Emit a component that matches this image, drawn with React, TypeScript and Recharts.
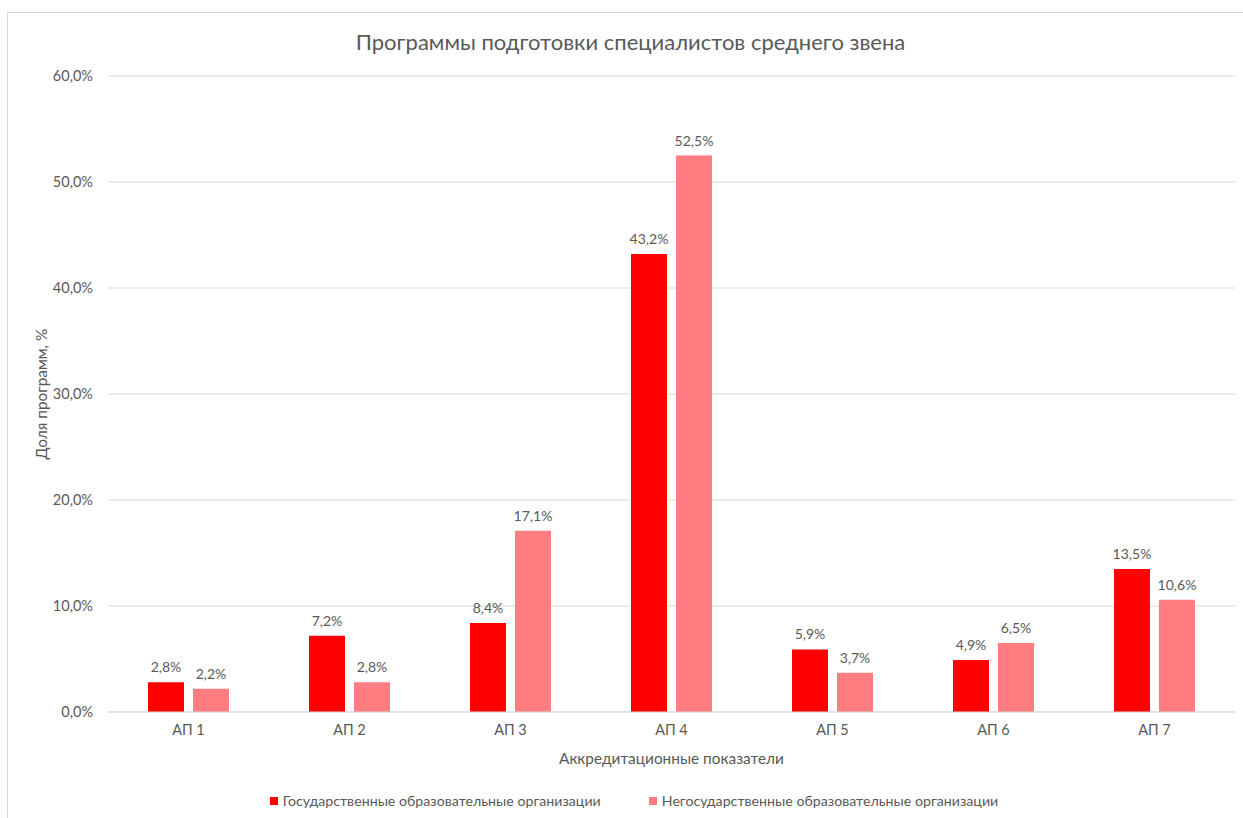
import React from 'react'
import { BarChart, Bar, XAxis, YAxis, CartesianGrid, Legend, LabelList } from 'recharts'

const categories = ['АП 1', 'АП 2', 'АП 3', 'АП 4', 'АП 5', 'АП 6', 'АП 7']
const stateOrgs = [2.8, 7.2, 8.4, 43.2, 5.9, 4.9, 13.5]
const privateOrgs = [2.2, 2.8, 17.1, 52.5, 3.7, 6.5, 10.6]
const yTicks = [0, 10, 20, 30, 40, 50, 60]

const seriesNames = {
  state: 'Государственные образовательные организации',
  priv: 'Негосударственные образовательные организации',
}

const data = categories.map((name, i) => ({ name, state: stateOrgs[i], priv: privateOrgs[i] }))

const FONT = 'Lato, "Open Sans", sans-serif'
const TEXT = '#595959'
const RED = '#FF0000'
const PINK = '#FF7C80'

const fmt = (v: number) => `${v.toFixed(1).replace('.', ',')}%`

function LegendContent() {
  const items = [
    { label: seriesNames.state, color: RED },
    { label: seriesNames.priv, color: PINK },
  ]
  return (
    <div style={{ display: 'flex', justifyContent: 'center', gap: 48, fontFamily: FONT, fontSize: 14.2, color: TEXT }}>
      {items.map((it) => (
        <div key={it.label} style={{ display: 'flex', alignItems: 'center' }}>
          <span style={{ display: 'inline-block', width: 8, height: 8, background: it.color, marginRight: 5 }} />
          <span>{it.label}</span>
        </div>
      ))}
    </div>
  )
}

export default function App() {
  return (
    <div style={{ position: 'fixed', left: 0, top: 0, width: 1243, height: 818, overflow: 'hidden', background: '#fff' }}>
      <div style={{ position: 'absolute', left: 7, top: 12, width: 1400, height: 1000, border: '1px solid #D9D9D9' }} />
      <div
        style={{
          position: 'absolute', left: 0, top: 28, width: 1261, textAlign: 'center',
          fontFamily: FONT, fontSize: 22, color: TEXT,
        }}
      >
        Программы подготовки специалистов среднего звена
      </div>
      <div style={{ position: 'absolute', left: 0, top: 0 }}>
        <BarChart width={1243} height={818} data={data} margin={{ top: 76, right: 8, bottom: 46, left: 0 }} barSize={36} barGap={9}>
          <CartesianGrid vertical={false} stroke="#D9D9D9" />
          <XAxis
            dataKey="name"
            height={60}
            tickLine={false}
            axisLine={{ stroke: '#D9D9D9' }}
            tickMargin={7}
            tick={{ fill: TEXT, fontSize: 14.5, fontFamily: FONT }}
            label={{ value: 'Аккредитационные показатели', position: 'insideBottom', offset: 8, fill: TEXT, fontSize: 15.4, fontFamily: FONT }}
          />
          <YAxis
            width={108}
            domain={[0, 60]}
            ticks={yTicks}
            tickFormatter={(v: number) => fmt(v)}
            tickLine={false}
            axisLine={false}
            tickMargin={9}
            tick={{ fill: TEXT, fontSize: 14.5, fontFamily: FONT }}
            label={{
              content: (props: any) => {
                const vb = props.viewBox || { y: 76, height: 636 }
                const cy = vb.y + vb.height / 2
                return (
                  <text
                    x={41}
                    y={cy}
                    transform={`rotate(-90 41 ${cy})`}
                    textAnchor="middle"
                    dominantBaseline="central"
                    fill={TEXT}
                    fontSize={15.4}
                    fontFamily={FONT}
                  >
                    Доля программ, %
                  </text>
                )
              },
            }}
          />
          <Legend
            layout="vertical"
            align="center"
            verticalAlign="middle"
            content={<LegendContent />}
            wrapperStyle={{ top: 792, left: 0, width: 1268 }}
          />
          <Bar dataKey="state" name={seriesNames.state} fill={RED} isAnimationActive={false}>
            <LabelList dataKey="state" position="top" offset={10} formatter={(v: any) => fmt(Number(v))} fill={TEXT} fontSize={14} fontFamily={FONT} />
          </Bar>
          <Bar dataKey="priv" name={seriesNames.priv} fill={PINK} isAnimationActive={false}>
            <LabelList dataKey="priv" position="top" offset={10} formatter={(v: any) => fmt(Number(v))} fill={TEXT} fontSize={14} fontFamily={FONT} />
          </Bar>
        </BarChart>
      </div>
    </div>
  )
}
